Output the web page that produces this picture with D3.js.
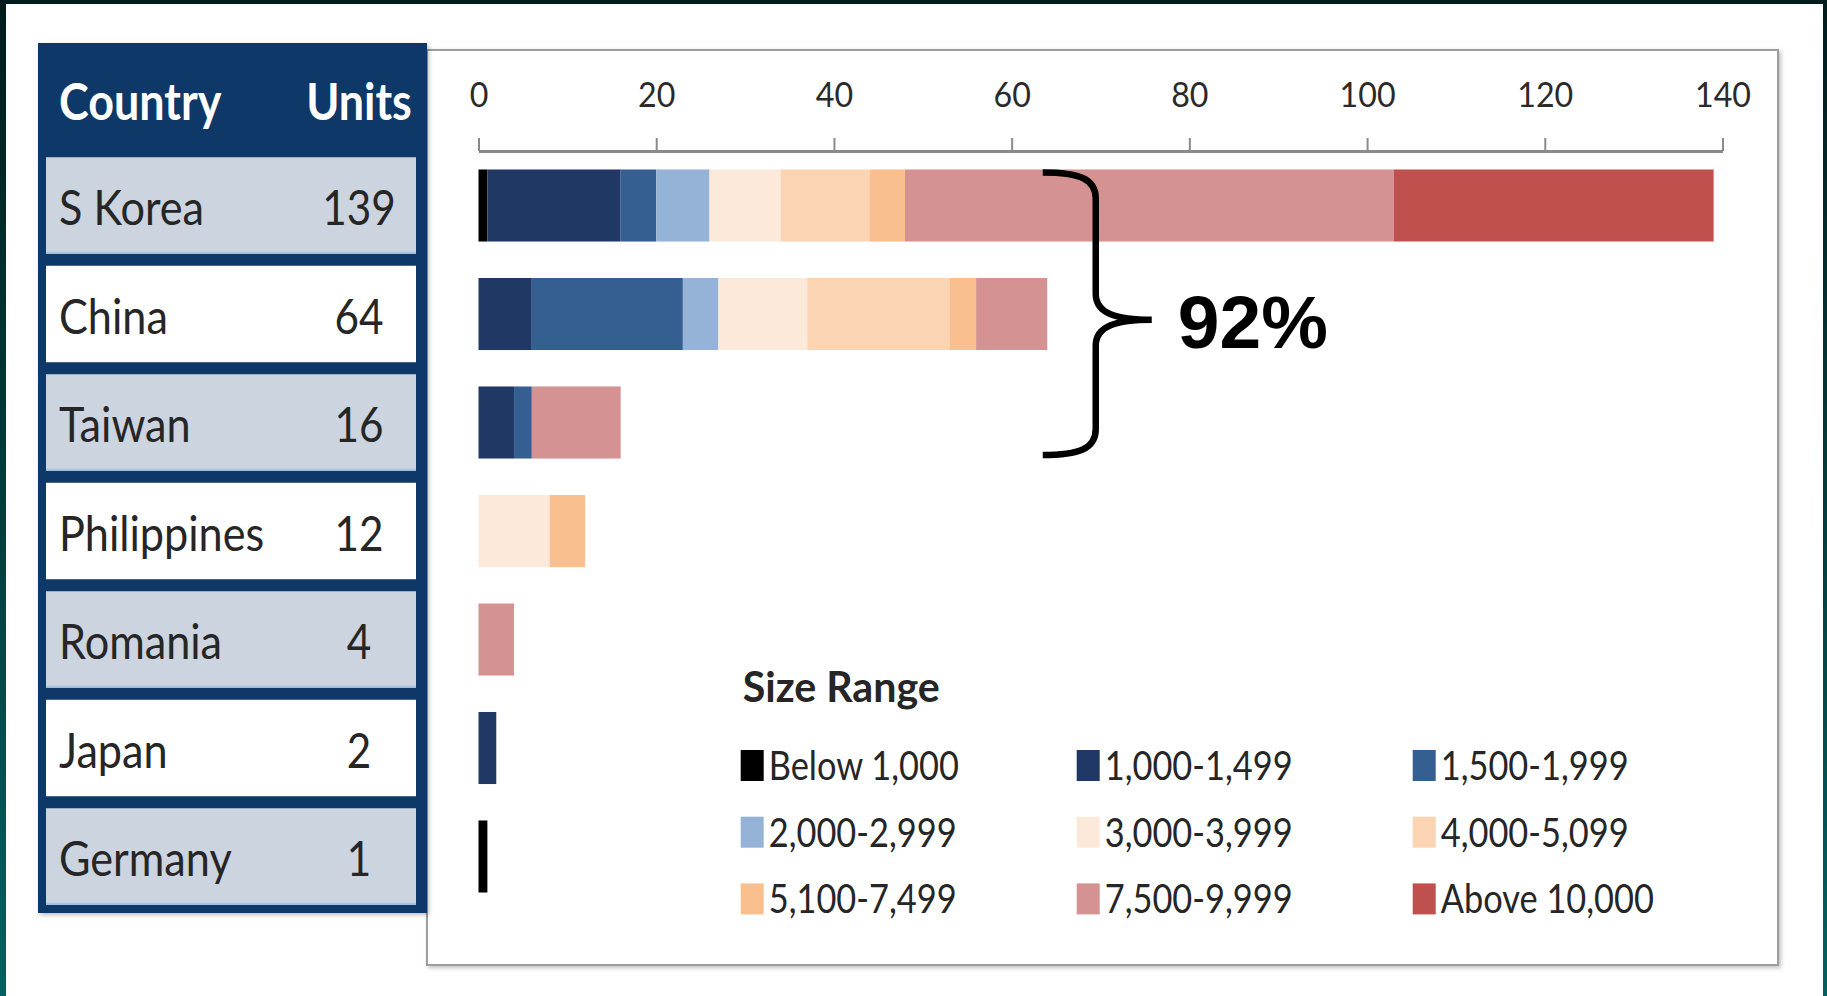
<!DOCTYPE html>
<html>
<head>
<meta charset="utf-8">
<script src="https://cdn.jsdelivr.net/npm/d3@7"></script>
<style>
  html, body { margin: 0; padding: 0; width: 1827px; height: 996px; overflow: hidden;
    background: linear-gradient(180deg, #021b1b 0%, #01403f 55%, #006262 100%); }
  svg { display: block; }
</style>
</head>
<body>
<svg id="chart" width="1827" height="996"></svg>
<script>
// ---- data ----
const countries = ["S Korea", "China", "Taiwan", "Philippines", "Romania", "Japan", "Germany"];
const units = [139, 64, 16, 12, 4, 2, 1];

const sizeRanges = ["Below 1,000", "1,000-1,499", "1,500-1,999", "2,000-2,999", "3,000-3,999",
                    "4,000-5,099", "5,100-7,499", "7,500-9,999", "Above 10,000"];

// units per size range, one value per country (same order as countries)
const below1000  = [1, 0, 0, 0, 0, 0, 1];
const r1000_1499 = [15, 6, 4, 0, 0, 2, 0];
const r1500_1999 = [4, 17, 2, 0, 0, 0, 0];
const r2000_2999 = [6, 4, 0, 0, 0, 0, 0];
const r3000_3999 = [8, 10, 0, 8, 0, 0, 0];
const r4000_5099 = [10, 16, 0, 0, 0, 0, 0];
const r5100_7499 = [4, 3, 0, 4, 0, 0, 0];
const r7500_9999 = [55, 8, 10, 0, 4, 0, 0];
const above10000 = [36, 0, 0, 0, 0, 0, 0];

const rangeColors = ["#000000", "#1f3864", "#365f91", "#95b3d7", "#fde9d9",
                     "#fbd4b4", "#fabf8f", "#d49292", "#c0504d"];

const axisTicks = [0, 20, 40, 60, 80, 100, 120, 140];

// ---- derived table for the stack layout ----
const seriesValues = [below1000, r1000_1499, r1500_1999, r2000_2999, r3000_3999,
                      r4000_5099, r5100_7499, r7500_9999, above10000];
const rows = countries.map((c, i) => {
  const o = { country: c };
  sizeRanges.forEach((r, j) => { o[r] = seriesValues[j][i]; });
  return o;
});
const stacked = d3.stack().keys(sizeRanges)(rows);

// ---- layout ----
const svg = d3.select("#chart");
const NAVY = "#0f3767";
const TEXT_FONT = "Lato, 'Open Sans', sans-serif";
const SX = 0.88; // horizontal squeeze applied to the Calibri-like text

const x = d3.scaleLinear().domain([0, 140]).range([478.5, 1722.5]);
const y = d3.scaleBand().domain(countries).range([151.25, 910.75])
  .paddingInner(0.336).paddingOuter(0.168);
const color = d3.scaleOrdinal().domain(sizeRanges).range(rangeColors);
const step = y.step();
const mid = c => y(c) + y.bandwidth() / 2;

function place(sel, px, py, sx = SX) {
  return sel.attr("transform", `translate(${px},${py}) scale(${sx},1)`);
}

// white page
svg.append("rect").attr("x", 6).attr("y", 4).attr("width", 1817).attr("height", 992).attr("fill", "#ffffff");

// soft shadow
const defs = svg.append("defs");
const f = defs.append("filter").attr("id", "shadow").attr("x", "-5%").attr("y", "-5%").attr("width", "110%").attr("height", "110%");
f.append("feDropShadow").attr("dx", 2).attr("dy", 2).attr("stdDeviation", 2).attr("flood-color", "#000").attr("flood-opacity", 0.25);

// chart panel
svg.append("rect").attr("x", 427).attr("y", 50).attr("width", 1351).attr("height", 915)
  .attr("fill", "#ffffff").attr("stroke", "#9d9d9d").attr("stroke-width", 2).attr("filter", "url(#shadow)");

// ---- table on the left ----
const table = svg.append("g");
table.append("rect").attr("x", 38).attr("y", 43).attr("width", 389).attr("height", 870)
  .attr("fill", NAVY).attr("filter", "url(#shadow)");

const rowH = step - 12;
const tRows = table.selectAll("g.trow").data(countries).join("g").attr("class", "trow");
tRows.append("rect")
  .attr("x", 46).attr("width", 370)
  .attr("y", c => mid(c) - rowH / 2).attr("height", rowH)
  .attr("fill", (c, i) => i % 2 === 0 ? "#cbd4df" : "#ffffff");
tRows.filter((c, i) => i % 2 === 0).append("line")
  .attr("x1", 46).attr("x2", 416)
  .attr("y1", c => mid(c) + rowH / 2 - 1).attr("y2", c => mid(c) + rowH / 2 - 1)
  .attr("stroke", "#a7c2e4").attr("stroke-width", 2);

tRows.append("text")
  .each(function (c) { place(d3.select(this), 59, mid(c) + 19.5, 0.9); })
  .attr("font-family", TEXT_FONT).attr("font-size", 48).attr("fill", "#262626")
  .text(c => c);
tRows.append("text")
  .each(function (c) { place(d3.select(this), 359, mid(c) + 19.5); })
  .attr("text-anchor", "middle")
  .attr("font-family", TEXT_FONT).attr("font-size", 48).attr("fill", "#262626")
  .text((c, i) => units[i]);

place(table.append("text"), 59, 120).attr("font-family", TEXT_FONT).attr("font-weight", 700)
  .attr("font-size", 51).attr("fill", "#ffffff").text("Country");
place(table.append("text"), 359, 120).attr("text-anchor", "middle").attr("font-family", TEXT_FONT)
  .attr("font-weight", 700).attr("font-size", 51).attr("fill", "#ffffff").text("Units");

// ---- axis ----
const axisG = svg.append("g").attr("transform", `translate(0,${151})`)
  .call(d3.axisTop(x).tickValues(axisTicks).tickSize(13).tickSizeOuter(0).tickPadding(31));
axisG.select(".domain").attr("stroke", "#8a8a8a").attr("stroke-width", 3);
axisG.selectAll(".tick line").attr("stroke", "#8a8a8a").attr("stroke-width", 2);
axisG.selectAll(".tick text")
  .attr("font-family", TEXT_FONT).attr("font-size", 35).attr("fill", "#2a2a2a")
  .attr("transform", `scale(0.92,1)`);

// ---- stacked bars ----
svg.append("g").selectAll("g").data(stacked).join("g")
  .attr("fill", s => color(s.key))
  .selectAll("rect").data(s => s).join("rect")
  .attr("x", d => x(d[0]))
  .attr("width", d => x(d[1]) - x(d[0]))
  .attr("y", d => y(d.data.country))
  .attr("height", y.bandwidth());

// ---- brace and share of top three ----
const topThree = d3.sum(units.slice(0, 3)) / d3.sum(units);
const bx = x(63.5);
const bTop = y("S Korea") + 3;
const bBot = y("Taiwan") + y.bandwidth() - 3.5;
const bMid = (bTop + bBot) / 2 + 6;
const brace = d3.path();
brace.moveTo(bx, bTop);
brace.bezierCurveTo(bx + 36, bTop, bx + 53, bTop + 6, bx + 53, bTop + 26);
brace.lineTo(bx + 53, bMid - 26);
brace.bezierCurveTo(bx + 53, bMid - 6, bx + 74, bMid, bx + 109, bMid);
brace.bezierCurveTo(bx + 74, bMid, bx + 53, bMid + 6, bx + 53, bMid + 26);
brace.lineTo(bx + 53, bBot - 26);
brace.bezierCurveTo(bx + 53, bBot - 6, bx + 36, bBot, bx, bBot);
svg.append("path").attr("d", brace.toString()).attr("fill", "none")
  .attr("stroke", "#000").attr("stroke-width", 6.5);

svg.append("text").attr("x", bx + 135).attr("y", bMid + 28)
  .attr("font-family", "'Liberation Sans', Arial, sans-serif").attr("font-weight", 700)
  .attr("font-size", 75).attr("fill", "#000")
  .text(d3.format(".0%")(topThree));

// ---- legend ----
const legend = svg.append("g");
place(legend.append("text"), 742.7, 701.7, 0.98).attr("font-family", TEXT_FONT).attr("font-weight", 700)
  .attr("font-size", 42).attr("fill", "#262626").text("Size Range");

const items = legend.selectAll("g.item").data(sizeRanges).join("g").attr("class", "item")
  .attr("transform", (r, i) => `translate(${740.7 + (i % 3) * 336},${780 + Math.floor(i / 3) * 66.7})`);
items.append("rect").attr("x", 0).attr("y", -30).attr("width", 23).attr("height", 31)
  .attr("fill", r => color(r));
items.append("text").attr("transform", `translate(28,0) scale(0.86,1)`)
  .attr("font-family", TEXT_FONT).attr("font-size", 40).attr("fill", "#262626")
  .text(r => r);
</script>
</body>
</html>
